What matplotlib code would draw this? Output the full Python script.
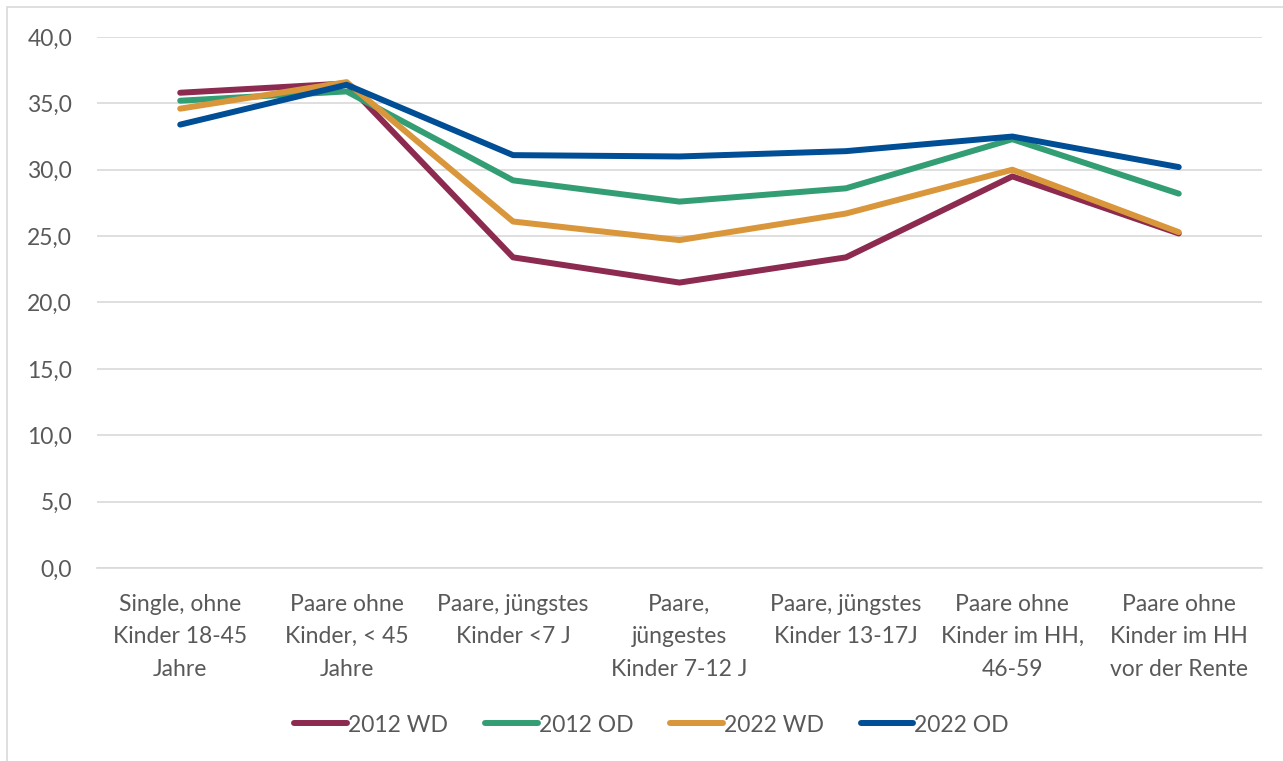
import matplotlib.pyplot as plt
import matplotlib.patches as patches
from matplotlib.ticker import FuncFormatter

plt.rcParams['font.family'] = ['Lato', 'DejaVu Sans']

categories = [
    "Single, ohne\nKinder 18-45\nJahre",
    "Paare ohne\nKinder, < 45\nJahre",
    "Paare, jüngstes\nKinder <7 J",
    "Paare,\njüngestes\nKinder 7-12 J",
    "Paare, jüngstes\nKinder 13-17J",
    "Paare ohne\nKinder im HH,\n46-59",
    "Paare ohne\nKinder im HH\nvor der Rente",
]

wd_2012 = [35.8, 36.5, 23.4, 21.5, 23.4, 29.5, 25.2]
od_2012 = [35.2, 35.9, 29.2, 27.6, 28.6, 32.3, 28.2]
wd_2022 = [34.6, 36.6, 26.1, 24.7, 26.7, 30.0, 25.3]
od_2022 = [33.4, 36.4, 31.1, 31.0, 31.4, 32.5, 30.2]

series = [
    ("2012 WD", wd_2012, "#8C2A4F"),
    ("2012 OD", od_2012, "#339E74"),
    ("2022 WD", wd_2022, "#D9963A"),
    ("2022 OD", od_2022, "#004E95"),
]

fig = plt.figure(figsize=(12.83, 7.61), dpi=100)
ax = fig.add_axes([0.0756, 0.2536, 0.908, 0.6978])

x = range(len(categories))
for name, vals, col in series:
    ax.plot(x, vals, color=col, linewidth=4.3, label=name, solid_capstyle='round')

ax.set_xlim(-0.5, 6.5)
ax.set_ylim(0, 40)
ax.set_yticks(range(0, 41, 5))
ax.yaxis.set_major_formatter(FuncFormatter(lambda v, p: f"{v:.1f}".replace(".", ",")))
ax.set_xticks(list(x))
ax.set_xticklabels(categories, linespacing=1.68)
ax.tick_params(axis='both', length=0, colors='#595959', labelsize=16.5)
ax.tick_params(axis='y', pad=18)
ax.tick_params(axis='x', pad=18.5)
ax.grid(axis='y', color='#D9D9D9', linewidth=1.2)
ax.set_axisbelow(True)
for s in ['top', 'right', 'left']:
    ax.spines[s].set_visible(False)
ax.spines['bottom'].set_color('#D9D9D9')
ax.spines['bottom'].set_linewidth(1.2)

leg = fig.legend(loc='center', bbox_to_anchor=(0.508, 1 - 725 / 761), ncol=4,
                 frameon=False, fontsize=16.5, handlelength=2.3, columnspacing=1.6,
                 handletextpad=0.05)
for t in leg.get_texts():
    t.set_color('#595959')

frame = patches.Rectangle((7 / 1283, -0.01), 1.0, 1 - 7 / 761 + 0.01,
                          transform=fig.transFigure, fill=False,
                          edgecolor='#D9D9D9', linewidth=1.2)
fig.patches.append(frame)

fig.savefig('out.png', dpi=100)
